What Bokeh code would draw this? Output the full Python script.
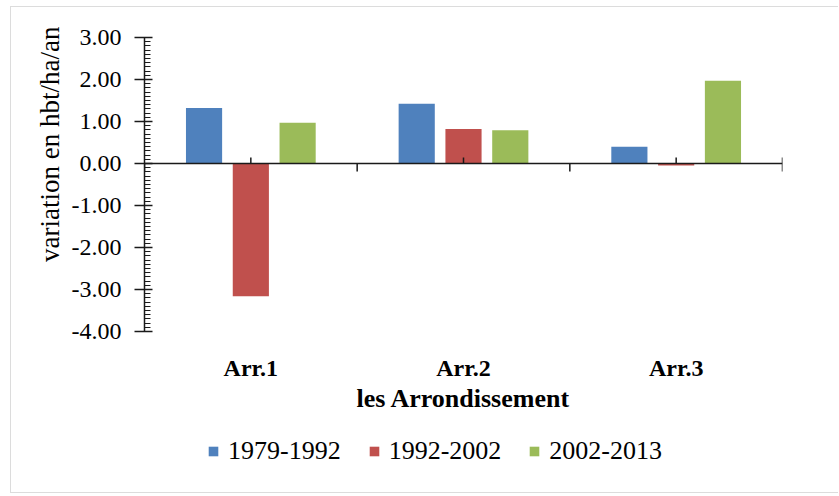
import numpy as np
from bokeh.plotting import figure
from bokeh.models import (ColumnDataSource, Range1d, LinearAxis, FixedTicker,
                          PrintfTickFormatter, Legend, LegendItem, Span, Title)
from bokeh.core.properties import value
from bokeh.transform import dodge
from bokeh.embed import file_html
from bokeh.resources import INLINE

# ---- data ----
categories = ["Arr.1", "Arr.2", "Arr.3"]
series_names = ["1979-1992", "1992-2002", "2002-2013"]
v_1979_1992 = [1.32, 1.42, 0.40]
v_1992_2002 = [-3.16, 0.82, -0.05]
v_2002_2013 = [0.97, 0.79, 1.97]
y_ticks = [-4, -3, -2, -1, 0, 1, 2, 3]
y_label = "variation en hbt/ha/an"
x_label = "les Arrondissement"
colors = ["#4F81BD", "#C0504D", "#9BBB59"]

FONT = "Liberation Serif"
centers = [i + 0.5 for i in range(len(categories))]
bounds = list(range(len(categories) + 1))

src = ColumnDataSource(dict(x=centers, s0=v_1979_1992, s1=v_1992_2002, s2=v_2002_2013))

# layout (pixels)
W, H = 828, 487
TOP, BOTTOM = 30, 4
AXIS_PX = 294                     # pixel height of the value axis (-4 .. 3)
frame_h = H - TOP - BOTTOM
px_per_unit = AXIS_PX / (y_ticks[-1] - y_ticks[0])
y_start = y_ticks[-1] - frame_h / px_per_unit   # extra room below the axis for labels/legend

p = figure(width=W, height=H, output_backend="svg", toolbar_location=None,
           x_range=Range1d(bounds[0], bounds[-1]), y_range=Range1d(y_start, y_ticks[-1]),
           x_axis_location=None, y_axis_location=None,
           min_border_left=133, min_border_top=TOP,
           min_border_right=57, min_border_bottom=BOTTOM,
           styles={"margin-left": "10px", "margin-top": "6px",
                   "border-left": "1px solid #dcdcdc", "border-top": "1px solid #dcdcdc",
                   "border-bottom": "1px solid #dcdcdc"})
p.outline_line_color = None
p.grid.visible = False

offsets = [-0.22, 0.0, 0.22]
renderers = []
for i, key in enumerate(["s0", "s1", "s2"]):
    r = p.vbar(x=dodge("x", offsets[i], range=p.x_range), top=key, bottom=0, width=0.17,
               source=src, fill_color=colors[i], line_color=None)
    renderers.append(r)

AX = "#1a1a1a"
# zero line with category boundary ticks (down) and centre ticks (up)
p.add_layout(Span(location=0, dimension="width", line_color=AX, line_width=1.5))
p.ray(x=bounds, y=[0] * len(bounds), length=8, length_units="screen", angle=-np.pi / 2,
      line_color=AX, line_width=1.5)
p.ray(x=centers, y=[0] * len(centers), length=6, length_units="screen", angle=np.pi / 2,
      line_color=AX, line_width=1.5)
p.ray(x=[bounds[-1]], y=[0], length=6, length_units="screen", angle=np.pi / 2,
      line_color=AX, line_width=1.5)

# y axis (limited to -4 .. 3)
yaxis = LinearAxis(
    bounds=(y_ticks[0], y_ticks[-1]),
    ticker=FixedTicker(ticks=y_ticks, minor_ticks=list(np.round(np.arange(-40, 31) / 10, 2))),
    formatter=PrintfTickFormatter(format="%.2f"),
    axis_line_color=AX, axis_line_width=1.5,
    major_tick_line_color=AX, major_tick_line_width=1.5, major_tick_in=8, major_tick_out=10,
    minor_tick_line_color=AX, minor_tick_line_width=1.2, minor_tick_in=6, minor_tick_out=0,
    major_label_standoff=13,
    major_label_text_font=FONT, major_label_text_font_size="24px", major_label_text_color="#000")
p.add_layout(yaxis, "left")

# y title, placed at the upper end (next to the value axis)
p.add_layout(Title(text=y_label, align="right", offset=-11, standoff=7,
                   text_font=FONT, text_font_size="27px", text_font_style="normal",
                   text_color="#000"), "left")

# category labels and x title under the value axis
p.text(x=centers, y=[y_ticks[0]] * len(centers), text=categories, y_offset=36,
       text_align="center", text_baseline="middle", text_color="#000",
       text_font=value(FONT), text_font_size="24px", text_font_style="bold")
p.text(x=[(bounds[0] + bounds[-1]) / 2], y=[y_ticks[0]], text=[x_label], y_offset=67,
       text_align="center", text_baseline="middle", text_color="#000",
       text_font=value(FONT), text_font_size="26px", text_font_style="bold")

legend = Legend(
    items=[LegendItem(label=n, renderers=[r]) for n, r in zip(series_names, renderers)],
    orientation="horizontal", location=(63, 24),
    glyph_width=12, glyph_height=12, label_standoff=9, spacing=27, padding=0, margin=0,
    border_line_color=None, background_fill_alpha=0,
    label_text_font=FONT, label_text_font_size="26px", label_text_color="#000")
p.add_layout(legend)

open("out.html", "w").write(file_html(p, INLINE))
